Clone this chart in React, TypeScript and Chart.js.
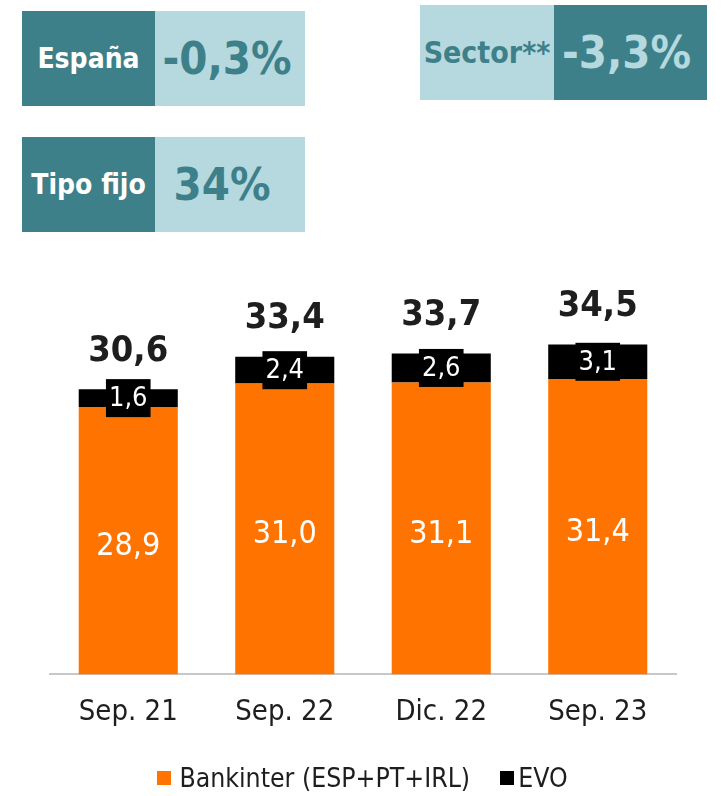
import React, { useEffect, useRef } from "react";
import { Chart, registerables } from "chart.js";

Chart.register(...registerables);

const categories = ["Sep. 21", "Sep. 22", "Dic. 22", "Sep. 23"];
const bankinterValues = [28.9, 31.0, 31.1, 31.4];
const evoValues = [1.6, 2.4, 2.6, 3.1];
const totalLabels = ["30,6", "33,4", "33,7", "34,5"];
const seriesNames = ["Bankinter (ESP+PT+IRL)", "EVO"];

const ORANGE = "#FF7300";
const BLACK = "#000000";
const DARK = "#3E8089";
const LIGHT = "#B5D9DF";
const TEXT = "#1E1E1E";
const FONT = "'Liberation Sans Narrow', 'DejaVu Sans Condensed', sans-serif";

const fmt = (v: number) => v.toFixed(1).replace(".", ",");

const labelPlugin = {
  id: "barLabels",
  afterDatasetsDraw(chart: any) {
    const ctx = chart.ctx;
    const bottom = chart.chartArea.bottom;
    ctx.save();
    ctx.textAlign = "center";
    ctx.textBaseline = "middle";
    const m0 = chart.getDatasetMeta(0);
    const m1 = chart.getDatasetMeta(1);
    m0.data.forEach((el: any, i: number) => {
      const cy = (el.y + Math.min(el.base, bottom)) / 2;
      ctx.font = `32px ${FONT}`;
      ctx.fillStyle = "#FFFFFF";
      ctx.fillText(fmt(bankinterValues[i]), el.x, cy + 6);
    });
    m1.data.forEach((el: any, i: number) => {
      const cy = (el.y + el.base) / 2;
      ctx.font = `27px ${FONT}`;
      const t = fmt(evoValues[i]);
      const w = ctx.measureText(t).width + 6;
      ctx.fillStyle = BLACK;
      ctx.fillRect(el.x - w / 2, cy - 19, w, 38);
      ctx.fillStyle = "#FFFFFF";
      ctx.fillText(t, el.x, cy + 1);
      ctx.font = `bold 36px ${FONT}`;
      ctx.fillStyle = TEXT;
      ctx.fillText(totalLabels[i], el.x, el.y - 38);
    });
    ctx.restore();
  },
};

function Box(props: {
  left: number;
  top: number;
  first: string;
  second: string;
  firstBg: string;
  secondBg: string;
  firstColor: string;
  secondColor: string;
  w1: number;
  w2: number;
  firstSize: number;
  secondShift?: number;
}) {
  const h = 95;
  return (
    <div style={{ position: "absolute", left: props.left, top: props.top, height: h, display: "flex" }}>
      <div
        style={{
          width: props.w1,
          height: h,
          background: props.firstBg,
          color: props.firstColor,
          fontFamily: FONT,
          fontWeight: "bold",
          fontSize: props.firstSize,
          display: "flex",
          alignItems: "center",
          justifyContent: "center",
        }}
      >
        {props.first}
      </div>
      <div
        style={{
          width: props.w2,
          height: h,
          background: props.secondBg,
          color: props.secondColor,
          fontFamily: FONT,
          fontWeight: "bold",
          fontSize: 45,
          display: "flex",
          alignItems: "center",
          justifyContent: "center",
        }}
      >
        <span style={{ position: "relative", left: props.secondShift || 0 }}>{props.second}</span>
      </div>
    </div>
  );
}

export default function App() {
  const ref = useRef<HTMLCanvasElement | null>(null);
  useEffect(() => {
    if (!ref.current) return;
    const chart = new Chart(ref.current, {
      type: "bar",
      data: {
        labels: categories,
        datasets: [
          { label: seriesNames[0], data: bankinterValues, backgroundColor: ORANGE, barPercentage: 0.633, categoryPercentage: 1 },
          { label: seriesNames[1], data: evoValues, backgroundColor: BLACK, barPercentage: 0.633, categoryPercentage: 1 },
        ],
      },
      options: {
        animation: false,
        responsive: false,
        maintainAspectRatio: false,
        layout: { padding: { left: 50, right: 49, top: 33, bottom: 22 } },
        plugins: { legend: { display: false }, tooltip: { enabled: false } },
        scales: {
          x: {
            stacked: true,
            grid: { display: false },
            border: { display: true, color: "#C8C8C8", width: 2 },
            ticks: { color: TEXT, font: { family: FONT, size: 29 }, padding: 13 },
          },
          y: { stacked: true, display: false, min: 5, max: 40 },
        },
      },
      plugins: [labelPlugin],
    });
    return () => chart.destroy();
  }, []);

  return (
    <div style={{ position: "absolute", left: 0, top: 0, width: 725, height: 796, background: "#fff", overflow: "hidden" }}>
      <Box left={22} top={11} first="España" second="-0,3%" firstBg={DARK} secondBg={LIGHT} firstColor="#fff" secondColor={DARK} w1={133} w2={150} firstSize={28} secondShift={-3} />
      <Box left={420} top={5} first="Sector**" second="-3,3%" firstBg={LIGHT} secondBg={DARK} firstColor={DARK} secondColor={LIGHT} w1={134} w2={153} firstSize={30} secondShift={-4} />
      <Box left={22} top={137} first="Tipo fijo" second="34%" firstBg={DARK} secondBg={LIGHT} firstColor="#fff" secondColor={DARK} w1={133} w2={150} firstSize={28} secondShift={-8} />
      <canvas ref={ref} width={725} height={515} style={{ position: "absolute", left: 0, top: 250 }} />
      <div
        style={{
          position: "absolute",
          left: 0,
          width: 725,
          top: 762,
          display: "flex",
          justifyContent: "center",
          alignItems: "center",
          fontFamily: FONT,
          fontSize: 26.4,
          color: TEXT,
          whiteSpace: "nowrap",
        }}
      >
        <span style={{ display: "inline-block", width: 14, height: 14, background: ORANGE, marginRight: 8 }} />
        <span style={{ marginRight: 30 }}>{seriesNames[0]}</span>
        <span style={{ display: "inline-block", width: 14, height: 14, background: BLACK, marginRight: 4 }} />
        <span>{seriesNames[1]}</span>
      </div>
    </div>
  );
}
